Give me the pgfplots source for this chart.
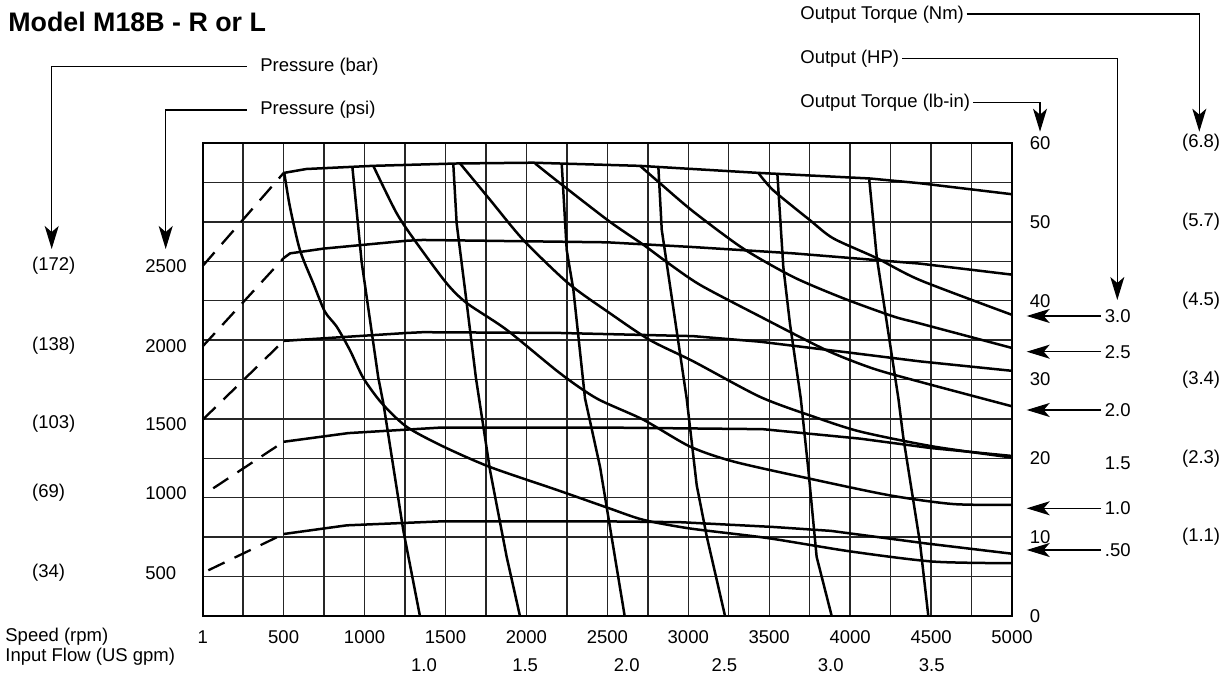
\documentclass[border=0pt]{standalone}
\usepackage{fontspec}
\setmainfont{Liberation Sans}
\usepackage{pgfplots}
\pgfplotsset{compat=1.18}
\usetikzlibrary{arrows.meta}
\newcommand\lf{\fontsize{9.25}{11}\selectfont}
\tikzset{pdash/.style={black, dash pattern=on 9pt off 5.5pt, line width=1.15pt, line cap=butt},
  cv/.style={black, solid, line width=1.25pt, line join=round},
  hp/.style={cv, smooth, tension=0.45},
  ann/.style={line width=0.65pt, black},
  tip/.style={-{Stealth[length=11.5pt,width=7pt,inset=3pt]}}}
\begin{document}
\begin{tikzpicture}
\useasboundingbox (0,0) rectangle (612pt,339.5pt);
\begin{axis}[
  at={(101.35pt,31.5pt)}, anchor=south west,
  scale only axis, width=404.65pt, height=236.5pt,
  xmin=0, xmax=5000, ymin=0, ymax=60,
  xtick={0,500,...,5000},
  xticklabels={1,500,1000,1500,2000,2500,3000,3500,4000,4500,5000},
  ytick={0,10,...,60},
  yticklabels={0,10,20,30,40,50,60},
  minor x tick num=1, minor y tick num=1,
  grid=both,
  major grid style={black!85, line width=0.72pt},
  minor grid style={black!85, line width=0.72pt},
  major tick length=0pt, minor tick length=0pt,
  axis line style={black, line width=1.15pt},
  yticklabel pos=right,
  tick label style={font=\lf},
  xticklabel style={anchor=center, yshift=-10.5pt},
  yticklabel style={anchor=west, xshift=5.4pt},
  clip=false,
]
% pressure curves: dashed start
\addplot[pdash] coordinates {(0,44.4) (500,56.2)};
\addplot[pdash] coordinates {(0,34.2) (500,45.4)};
\addplot[pdash] coordinates {(0,24.9) (500,34.9)};
\addplot[pdash] coordinates {(65,16.2) (500,22.1)};
\addplot[pdash] coordinates {(35,5.8) (500,10.4)};
% pressure curves: solid
\addplot[cv] coordinates {(500,56.2) (640,56.7) (1050,57.1) (1570,57.4) (2040,57.5) (2700,57.1) (3440,56.2) (4120,55.5) (4430,54.9) (5000,53.5)};
\addplot[cv] coordinates {(500,45.4) (540,46.0) (745,46.6) (1260,47.6) (1360,47.7) (2500,47.4) (3030,46.8) (3650,46.0) (4430,44.7) (5000,43.3)};
\addplot[cv] coordinates {(500,34.9) (1260,35.9) (1360,36.0) (2210,35.9) (3030,35.5) (3440,34.8) (3960,33.5) (4430,32.3) (5000,31.1)};
\addplot[cv] coordinates {(500,22.1) (900,23.2) (1470,23.9) (2500,23.9) (3460,23.7) (4060,22.5) (4500,21.3) (5000,20.3)};
\addplot[cv] coordinates {(500,10.4) (890,11.5) (1470,12.0) (2500,12.0) (2950,11.9) (3520,11.3) (3880,10.8) (4470,9.2) (5000,7.9)};
% output HP curves
\addplot[hp] coordinates {(504,56.2) (539,51.9) (601,46.4) (683,42.2) (755,38.6) (828,36.7) (910,33.7) (992,30.2) (1106,27.0) (1260,24.0) (1486,21.5) (1775,18.9) (2187,16.0) (2506,13.7) (2722,12.2) (3011,11.1) (3485,9.9) (3999,8.2) (4514,6.9) (5000,6.7)};
\addplot[hp] coordinates {(1054,57.1) (1198,51.1) (1322,47.3) (1507,42.2) (1631,39.7) (1878,36.3) (2207,30.8) (2434,27.6) (2722,24.9) (3010,21.5) (3278,19.6) (3732,17.5) (4246,15.3) (4637,14.2) (5000,14.1)};
\addplot[hp] coordinates {(1590,57.4) (1775,52.8) (1981,47.7) (2259,42.2) (2516,38.4) (2763,35.0) (3031,32.3) (3443,27.8) (3772,25.3) (4061,23.4) (4514,21.5) (5000,20.1)};
\addplot[hp] coordinates {(2054,57.4) (2207,54.9) (2516,50.0) (2722,47.1) (2867,44.9) (3073,42.0) (3443,38.0) (3855,33.7) (4140,31.4) (4432,29.7) (5000,26.6)};
\addplot[hp] coordinates {(2702,57.1) (2825,54.9) (3031,51.3) (3340,46.6) (3649,43.0) (3958,40.3) (4267,38.0) (4432,37.1) (5000,34.0)};
\addplot[hp] coordinates {(3433,56.2) (3525,54.0) (3752,50.2) (3896,47.9) (4164,45.4) (4432,42.6) (5000,38.2)};
% input flow lines
\addplot[cv] coordinates {(925,56.9) (982,44.9) (1085,30.2) (1116,27.0) (1239,10.9) (1342,0)};
\addplot[cv] coordinates {(1548,57.4) (1569,49.8) (1631,39.7) (1688,30.2) (1775,18.5) (1878,7.5) (1960,0)};
\addplot[cv] coordinates {(2218,57.4) (2249,46.4) (2290,41.4) (2362,27.6) (2455,18.9) (2607,0)};
\addplot[cv] coordinates {(2815,57.0) (2836,49.0) (2867,44.7) (2990,27.6) (3052,16.6) (3114,10.1) (3227,0)};
\addplot[cv] coordinates {(3550,56.2) (3587,44.3) (3628,37.1) (3695,27.6) (3742,18.5) (3793,7.5) (3886,0)};
\addplot[cv] coordinates {(4118,55.4) (4164,45.6) (4298,27.6) (4328,22.7) (4432,9.2) (4483,0)};
% input flow labels
\node[font=\lf] at (axis cs:1367,0) [yshift=-24.5pt] {1.0};
\node[font=\lf] at (axis cs:1992,0) [yshift=-24.5pt] {1.5};
\node[font=\lf] at (axis cs:2620,0) [yshift=-24.5pt] {2.0};
\node[font=\lf] at (axis cs:3223,0) [yshift=-24.5pt] {2.5};
\node[font=\lf] at (axis cs:3880,0) [yshift=-24.5pt] {3.0};
\node[font=\lf] at (axis cs:4504,0) [yshift=-24.5pt] {3.5};
\end{axis}
\begin{scope}[x=0.5pt, y=-0.5pt, shift={(0pt,339.5pt)}]
\node[anchor=base west, inner sep=0, font=\bfseries\fontsize{13.4}{15}\selectfont] at (8,32) {Model M18B - R or L};
% left annotations
\node[anchor=west, inner sep=0, font=\lf] at (260,66.7) {Pressure (bar)};
\node[anchor=west, inner sep=0, font=\lf] at (260,110) {Pressure (psi)};
\draw[ann, tip] (246.7,66.7) -- (51.7,66.7) -- (51.7,249);
\draw[ann, tip] (246.7,110) -- (165.7,110) -- (165.7,249);
\foreach \y/\b/\p in {266/(172)/2500, 346/(138)/2000, 424/(103)/1500, 493/(69)/1000, 573/(34)/500} {
  \node[anchor=west, inner sep=0, font=\lf] at (31.7,\y) {\b};
  \node[anchor=west, inner sep=0, font=\lf] at (145,\y) {\p};
}
\node[anchor=west, inner sep=0, font=\lf] at (5,637) {Speed (rpm)};
\node[anchor=west, inner sep=0, font=\lf] at (5,657) {Input Flow (US gpm)};
% top right annotations
\node[anchor=west, inner sep=0, font=\lf] at (800,15) {Output Torque (Nm)};
\node[anchor=west, inner sep=0, font=\lf] at (800,58.3) {Output (HP)};
\node[anchor=west, inner sep=0, font=\lf] at (800,102.7) {Output Torque (lb-in)};
\draw[ann, tip] (966.7,14) -- (1199.3,14) -- (1199.3,131.7);
\draw[ann, tip] (902,58.3) -- (1117.3,58.3) -- (1117.3,300);
\draw[ann, tip] (973,102.7) -- (1040,102.7) -- (1040,131.7);
% HP column
\foreach \y/\t in {316/3.0, 351.7/2.5, 410/2.0, 508.3/1.0, 550/.50} {
  \draw[ann, tip] (1101,\y) -- (1026.7,\y);
  \node[anchor=east, inner sep=0, font=\lf] at (1131,\y) {\t};
}
\node[anchor=east, inner sep=0, font=\lf] at (1131,463.3) {1.5};
% Nm column
\foreach \y/\t in {143/(6.8), 221.8/(5.7), 300.7/(4.5), 379.5/(3.4), 458.3/(2.3), 537.2/(1.1)} {
  \node[anchor=west, inner sep=0, font=\lf] at (1181.7,\y) {\t};
}
\end{scope}
\end{tikzpicture}
\end{document}
